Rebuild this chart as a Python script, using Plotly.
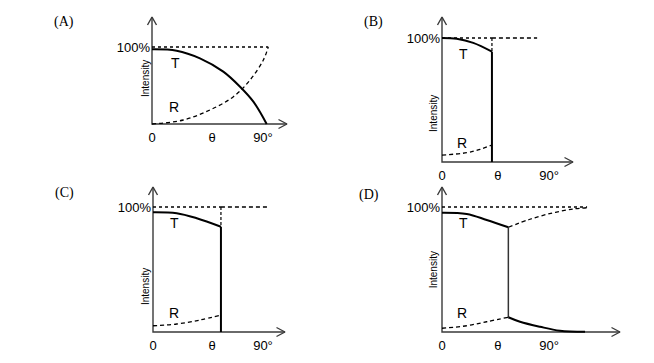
import plotly.graph_objects as go

W, H = 654, 363

# ---------------- data ----------------
# Panel A
A_T_x = [0, 20, 38.9, 57.8, 71.4, 82.2, 93]
A_T_y = [97, 95.2, 85.3, 68, 48.4, 29, 0]
A_R_x = [0, 25.4, 47, 66, 79.5, 90.3, 94.3]
A_R_y = [0, 5.2, 18.2, 35.5, 57.1, 83.1, 100]
A_full_x = [0, 94.3]

# Panel B
B_theta_c = 42
B_T_x = [0, 12.4, 26.3, 42]
B_T_y = [100, 99.4, 96.1, 89]
B_R_x = [0, 20.8, 32, 42]
B_R_y = [5.6, 7.5, 10.2, 13.7]
B_full_end = 80

# Panel C
C_theta_c = 55.6
C_T_x = [0, 19.4, 35.8, 55.6]
C_T_y = [95.8, 95, 91, 84.2]
C_R_x = [0, 19.4, 38.5, 55.6]
C_R_y = [5, 6.4, 9.6, 13.6]
C_full_end = 93.3

# Panel D
D_theta_c = 55.8
D_T_x = [0, 20.8, 37.6, 55.8]
D_T_y = [95.4, 94.4, 89.6, 83.8]
D_R_x = [0, 20.8, 37.6, 55.8]
D_R_y = [3, 5, 8.2, 11.8]
D_Rup_x = [55.8, 74, 93.6, 110.4, 121.7]
D_Rup_y = [83.8, 90.2, 95.4, 98.4, 99.4]
D_Tdn_x = [55.8, 65.6, 82.4, 99.2, 120.3]
D_Tdn_y = [11.8, 8.2, 4.2, 1, 0.2]
D_full_end = 122

tick_text_x = ["0", "θ", "90°"]
tick_text_y = ["100%"]

# panel geometry in pixels: y-axis x position, x-axis end, x-axis y position, y-axis top,
# px per x unit, px per y unit, tick positions (0, θ, 90°)
panels = {
    "A": dict(x0=152, x1=287, y0=124, y1=17, kx=1.233, ky=0.77, ticks=[0, 48.7, 90]),
    "B": dict(x0=442, x1=573, y0=162, y1=17, kx=1.189, ky=1.24, ticks=[0, 47, 90]),
    "C": dict(x0=153, x1=285, y0=332, y1=187, kx=1.222, ky=1.25, ticks=[0, 48.3, 90]),
    "D": dict(x0=442, x1=620, y0=332, y1=187, kx=1.189, ky=1.25, ticks=[0, 47, 90]),
}
label_pos = {"A": (64, 22), "B": (373, 22), "C": (64, 193), "D": (369, 195)}
TR_labels = {
    "A": [(18.7, 79, "T"), (17.8, 22, "R"), (-5.7, 59.7, "Intensity")],
    "B": [(17.7, 87.1, "T"), (16.8, 15.3, "R"), (-7.6, 39.5, "Intensity")],
    "C": [(17.2, 87.2, "T"), (17.2, 15.2, "R"), (-6.5, 36, "Intensity")],
    "D": [(17.9, 87, "T"), (16.5, 15, "R"), (-7.3, 49.6, "Intensity")],
}

PADL, PADR, PADT, PADB = 7, 3, 3, 7

fig = go.Figure()
AX = "#3a3a3a"
names = ["A", "B", "C", "D"]
layout_axes = {}
annotations = []
FONT = "Liberation Sans, Arial"

for i, name in enumerate(names):
    p = panels[name]
    sfx = "" if i == 0 else str(i + 1)
    xr = (p["x1"] - p["x0"]) / p["kx"]
    yr = (p["y0"] - p["y1"]) / p["ky"]
    layout_axes["xaxis" + sfx] = dict(
        domain=[(p["x0"] - PADL) / W, (p["x1"] + PADR) / W],
        range=[-PADL / p["kx"], xr + PADR / p["kx"]], showline=False,
        showgrid=False, zeroline=False, automargin=False,
        tickvals=p["ticks"], ticktext=tick_text_x, ticks="",
        ticklabelstandoff=-3,
        tickfont=dict(family=FONT, size=13, color="black"),
        anchor="y" + sfx, fixedrange=True)
    layout_axes["yaxis" + sfx] = dict(
        domain=[1 - (p["y0"] + PADB) / H, 1 - (p["y1"] - PADT) / H],
        range=[-PADB / p["ky"], yr + PADT / p["ky"]], showline=False,
        showgrid=False, zeroline=False, automargin=False,
        tickvals=[100], ticktext=tick_text_y, ticks="",
        ticklabelstandoff=-6,
        tickfont=dict(family=FONT, size=13, color="black"),
        anchor="x" + sfx, fixedrange=True)
    xa, ya = "x" + sfx, "y" + sfx
    # axes with open-V arrowheads
    fig.add_trace(go.Scatter(
        x=[-4.5 / p["kx"], 0, 4.5 / p["kx"], None, 0, 0, xr, None,
           xr - 8.5 / p["kx"], xr, xr - 8.5 / p["kx"]],
        y=[yr - 8 / p["ky"], yr, yr - 8 / p["ky"], None, yr, 0, 0, None,
           4.5 / p["ky"], 0, -4.5 / p["ky"]],
        mode="lines", line=dict(color=AX, width=1.4), xaxis=xa, yaxis=ya, hoverinfo="skip"))
    for (tx, ty, txt) in TR_labels[name]:
        if txt == "Intensity":
            annotations.append(dict(x=0, y=ty, xref=xa, yref=ya, xshift=tx * p["kx"], text=txt,
                                    showarrow=False, textangle=-90,
                                    xanchor="center", yanchor="middle",
                                    font=dict(family=FONT, size=10, color="black")))
        else:
            annotations.append(dict(x=tx, y=ty, xref=xa, yref=ya, text=txt, showarrow=False,
                                    xanchor="center", yanchor="middle",
                                    font=dict(family=FONT, size=14, color="black")))
    lx, ly = label_pos[name]
    annotations.append(dict(x=lx / W, y=1 - ly / H, xref="paper", yref="paper", text="(" + name + ")",
                            showarrow=False, xanchor="center", yanchor="middle",
                            font=dict(family="Liberation Serif, Times New Roman", size=14, color="black")))


def line(x, y, ax, dash="solid", width=2.0, shape="spline", color="black"):
    sfx = "" if ax == 1 else str(ax)
    fig.add_trace(go.Scatter(x=x, y=y, mode="lines", xaxis="x" + sfx, yaxis="y" + sfx,
                             line=dict(color=color, width=width, dash=dash, shape=shape),
                             hoverinfo="skip"))


DASH = "4px,3px"
# Panel A
line(A_full_x, [100, 100], 1, dash="dot", width=1.3, shape="linear")
line(A_T_x, A_T_y, 1, width=2)
line(A_R_x, A_R_y, 1, dash=DASH, width=1.3)

# Panel B
line([0, B_theta_c], [100, 100], 2, dash="dot", width=1.3, shape="linear")
line([B_theta_c, B_full_end], [100, 100], 2, dash=DASH, width=1.3, shape="linear")
line(B_T_x, B_T_y, 2, width=2)
line([B_theta_c, B_theta_c], [B_T_y[-1], 0], 2, width=2, shape="linear")
line([B_theta_c, B_theta_c], [100, B_T_y[-1]], 2, dash="3px,2px", width=1.2, shape="linear")
line(B_R_x, B_R_y, 2, dash=DASH, width=1.3)

# Panel C
line([0, C_theta_c], [100, 100], 3, dash="dot", width=1.3, shape="linear")
line([C_theta_c, C_full_end], [100, 100], 3, dash=DASH, width=1.3, shape="linear")
line(C_T_x, C_T_y, 3, width=2)
line([C_theta_c, C_theta_c], [C_T_y[-1], 0], 3, width=2, shape="linear")
line([C_theta_c, C_theta_c], [100, C_T_y[-1]], 3, dash="3px,2px", width=1.2, shape="linear")
line(C_R_x, C_R_y, 3, dash=DASH, width=1.3)

# Panel D
line([0, D_full_end], [100, 100], 4, dash="dot", width=1.3, shape="linear")
line(D_T_x, D_T_y, 4, width=2)
line(D_R_x, D_R_y, 4, dash=DASH, width=1.3)
line([D_theta_c, D_theta_c], [D_T_y[-1], D_R_y[-1]], 4, width=1.5, shape="linear", color="#333")
line(D_Rup_x, D_Rup_y, 4, dash=DASH, width=1.3)
line(D_Tdn_x, D_Tdn_y, 4, width=2)

fig.update_layout(
    width=W, height=H, margin=dict(l=0, r=0, t=0, b=0, autoexpand=False),
    paper_bgcolor="white", plot_bgcolor="rgba(0,0,0,0)",
    showlegend=False, annotations=annotations, **layout_axes)

fig.write_html("out.html", config={"displayModeBar": False},
               post_script="document.body.style.margin='0px';document.body.style.overflow='hidden';")
